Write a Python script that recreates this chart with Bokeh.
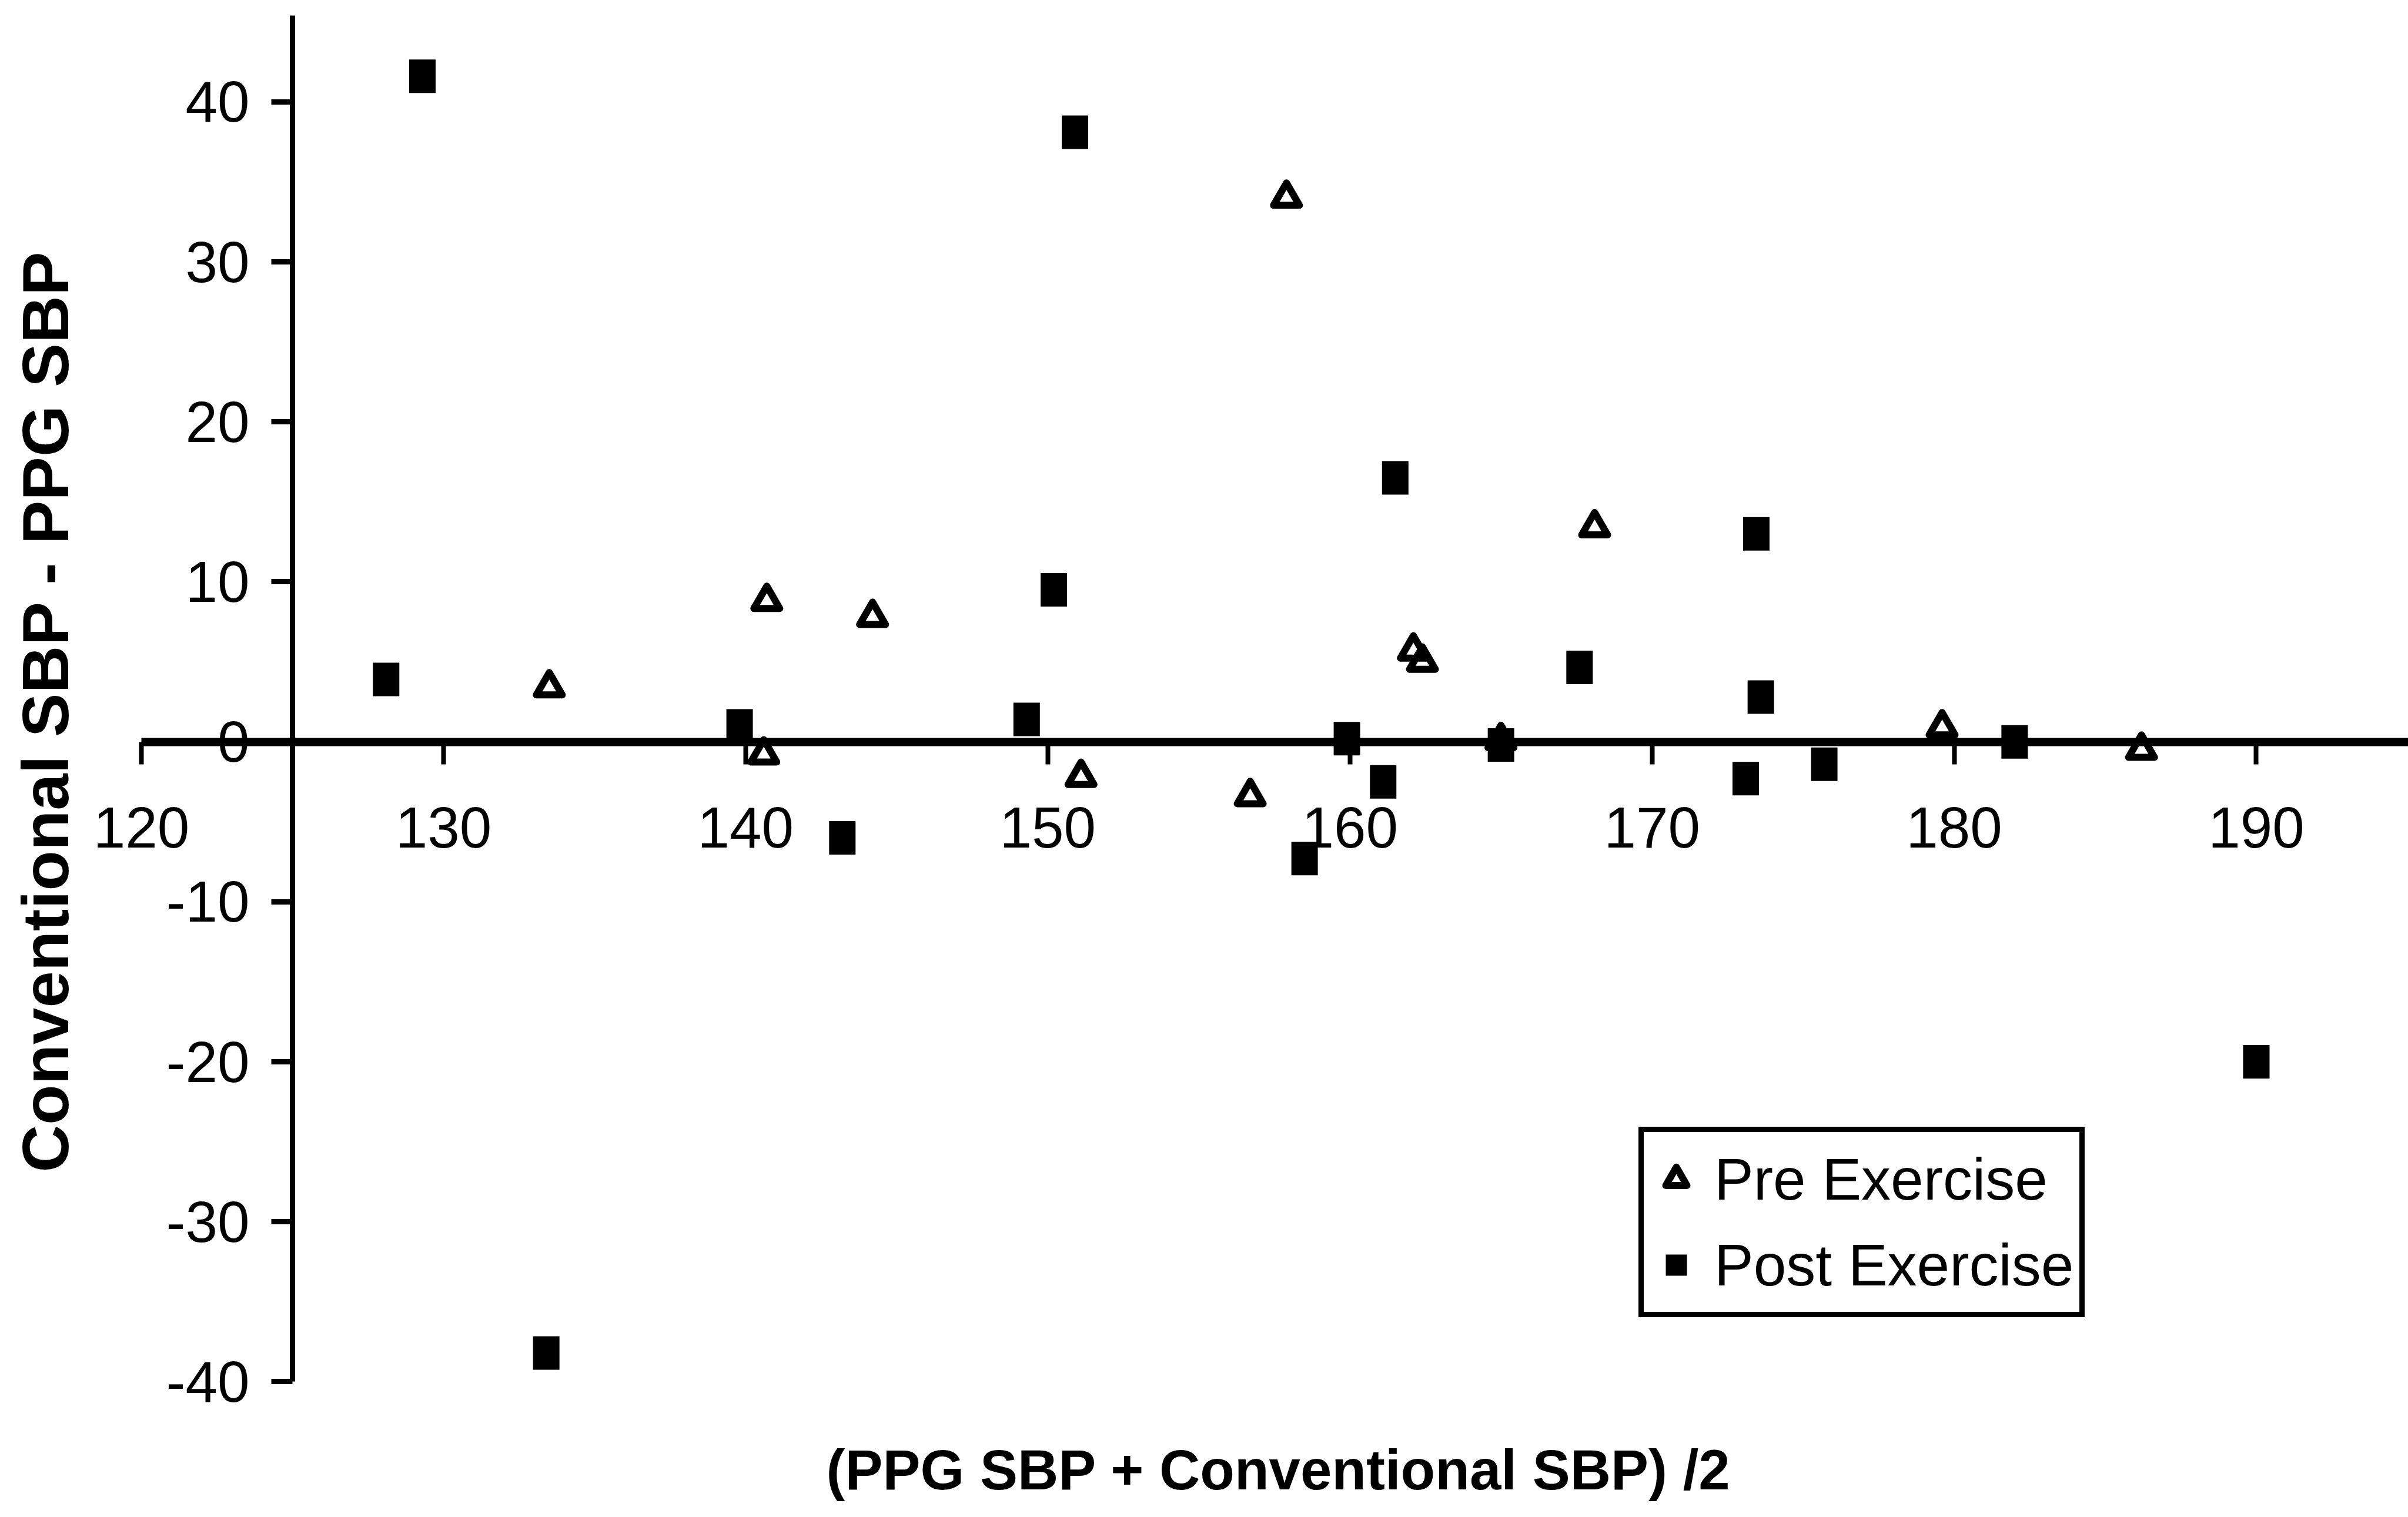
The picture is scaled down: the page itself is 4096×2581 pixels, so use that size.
from bokeh.plotting import figure
from bokeh.models import (LinearAxis, FixedTicker, Range1d, ColumnDataSource,
                          Legend, LegendItem, NumeralTickFormatter, Title)
from bokeh.embed import file_html
from bokeh.resources import INLINE

# Bland-Altman style comparison: mean of the two readings vs. their difference
pre_mean = [133.5, 140.6, 140.7, 144.2, 151.1, 156.7, 157.9, 162.1, 162.4,
            165.0, 168.1, 179.6, 186.2]
pre_diff = [3.4, -0.8, 8.8, 7.8, -2.2, -3.4, 34.0, 5.7, 5.0,
            0.1, 13.4, 0.9, -0.5]

post_mean = [128.1, 129.3, 133.4, 139.8, 143.2, 149.3, 150.2, 150.9, 158.5,
             159.9, 161.1, 161.5, 165.0, 167.6, 173.1, 173.45, 173.6, 175.7,
             182.0, 190.0]
post_diff = [3.9, 41.6, -38.2, 1.0, -6.0, 1.4, 9.5, 38.1, -7.3,
             0.2, -2.5, 16.5, -0.2, 4.65, -2.3, 13.0, 2.8, -1.4,
             0.0, -20.0]

x_ticks = [120, 130, 140, 150, 160, 170, 180, 190]
y_ticks = [-40, -30, -20, -10, 0, 10, 20, 30, 40]

x_title = "(PPG SBP + Conventional SBP) /2"
y_title = "Conventional SBP - PPG SBP"
series_names = ["Pre Exercise", "Post Exercise"]

FONT = "'Liberation Sans', Arial, sans-serif"

p = figure(width=4096, height=2581, output_backend="svg", toolbar_location=None,
           x_range=Range1d(118.346, 195.03), y_range=Range1d(-42.556, 46.35),
           x_axis_location=None, y_axis_location=None,
           min_border_left=155, min_border_right=0,
           min_border_top=0, min_border_bottom=161,
           background_fill_color="white", border_fill_color="white",
           outline_line_color=None)
p.grid.visible = False

# horizontal axis sitting on the zero-difference line
xaxis = LinearAxis(fixed_location=0, bounds=(120, 195.03),
                   ticker=FixedTicker(ticks=x_ticks),
                   formatter=NumeralTickFormatter(format="0"),
                   axis_line_color="black", axis_line_width=14,
                   major_tick_line_color="black", major_tick_line_width=8,
                   major_tick_out=38, major_tick_in=0,
                   minor_tick_line_color=None,
                   major_label_standoff=74,
                   major_label_text_font=FONT,
                   major_label_text_font_size="98px",
                   major_label_text_color="black")
p.add_layout(xaxis, "below")

# vertical axis crossing the horizontal one at 125
yaxis = LinearAxis(fixed_location=125, bounds=(-40, 45.4),
                   ticker=FixedTicker(ticks=y_ticks),
                   formatter=NumeralTickFormatter(format="0"),
                   axis_line_color="black", axis_line_width=9,
                   major_tick_line_color="black", major_tick_line_width=9,
                   major_tick_out=36, major_tick_in=0,
                   minor_tick_line_color=None,
                   major_label_standoff=37,
                   major_label_text_font=FONT,
                   major_label_text_font_size="98px",
                   major_label_text_color="black")
p.add_layout(yaxis, "left")

# vertical title along the left edge
yt = LinearAxis(ticker=FixedTicker(ticks=[]), axis_label=y_title,
                axis_line_color=None, major_tick_out=0, major_tick_in=0,
                minor_tick_out=0, minor_tick_in=0,
                major_label_text_font_size="0px",
                axis_label_standoff=16,
                axis_label_text_font=FONT,
                axis_label_text_font_size="112px",
                axis_label_text_font_style="bold",
                axis_label_text_color="black")
p.add_layout(yt, "left")

# horizontal title under the plot
p.add_layout(Title(text=x_title, align="left", offset=1250,
                   vertical_align="top", standoff=52,
                   text_font=FONT, text_font_size="96px",
                   text_font_style="bold", text_color="black"), "below")

pre_src = ColumnDataSource(dict(mean=pre_mean, diff=pre_diff))
post_src = ColumnDataSource(dict(mean=post_mean, diff=post_diff))

r_pre = p.scatter(x="mean", y="diff", source=pre_src, marker="triangle",
                  size=44, fill_alpha=0, line_color="black", line_width=12,
                  line_join="round")
# filled squares: a square marker (used as the legend key) under a taller block
r_post = p.scatter(x="mean", y="diff", source=post_src, marker="square",
                   size=38, fill_color="black", line_color=None)
p.rect(x="mean", y="diff", source=post_src, width=45, height=57,
       width_units="screen", height_units="screen",
       fill_color="black", line_color=None)

legend = Legend(items=[LegendItem(label=series_names[0], renderers=[r_pre]),
                       LegendItem(label=series_names[1], renderers=[r_post])],
                location=(2632, 179), orientation="vertical",
                glyph_width=90, glyph_height=140, label_standoff=20,
                padding=10, spacing=6, margin=0,
                label_text_font=FONT, label_text_font_size="100px",
                label_text_color="black",
                border_line_color="black", border_line_width=9,
                border_line_alpha=1.0,
                background_fill_color="white", background_fill_alpha=1)
p.add_layout(legend)

open("out.html", "w").write(file_html(p, INLINE))
